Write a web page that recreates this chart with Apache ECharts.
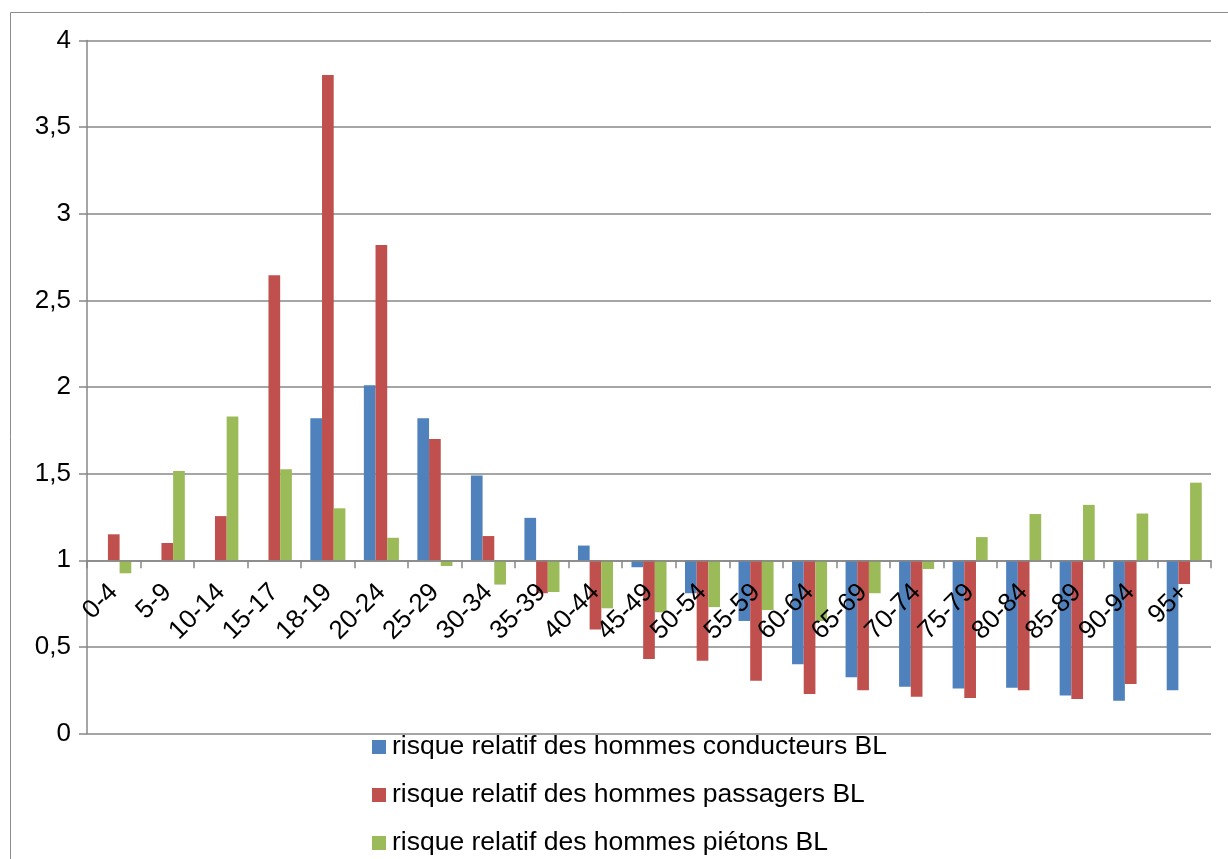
<!DOCTYPE html>
<html>
<head>
<meta charset="utf-8">
<script src="https://cdn.jsdelivr.net/npm/echarts@6/dist/echarts.min.js"></script>
<style>
html,body{margin:0;padding:0;background:#fff;}
#c{width:1228px;height:859px;}
</style>
</head>
<body>
<div id="c"></div>
<script>
var categories = ['0-4','5-9','10-14','15-17','18-19','20-24','25-29','30-34','35-39','40-44','45-49','50-54','55-59','60-64','65-69','70-74','75-79','80-84','85-89','90-94','95+'];
var conducteurs = [null,null,null,null,1.82,2.01,1.82,1.49,1.245,1.085,0.96,0.81,0.65,0.40,0.325,0.27,0.26,0.265,0.22,0.19,0.25];
var passagers = [1.15,1.10,1.255,2.645,3.80,2.82,1.70,1.14,0.81,0.60,0.43,0.42,0.305,0.228,0.25,0.213,0.205,0.25,0.20,0.286,0.863];
var pietons = [0.925,1.515,1.83,1.525,1.30,1.13,0.967,0.86,0.817,0.723,0.70,0.73,0.713,0.65,0.81,0.95,1.134,1.267,1.32,1.27,1.448];
var seriesNames = ['risque relatif des hommes conducteurs BL','risque relatif des hommes passagers BL','risque relatif des hommes piétons BL'];
var yTicks = [0,0.5,1,1.5,2,2.5,3,3.5,4];
var baseline = 1;

function shift(arr){ return arr.map(function(v){ return v == null ? null : v - baseline; }); }
function fmt(v){ var r = Math.round((v + baseline) * 10) / 10; return String(r).replace('.', ','); }

var gridTop = 40.4, gridBottom = 125.4, H = 859;
var yMin = yTicks[0] - baseline, yMax = yTicks[yTicks.length-1] - baseline;
// pixel offset of the category axis so it sits on the baseline value
var axisOffset = -(H - gridTop - gridBottom) * (0 - yMin) / (yMax - yMin);

var chart = echarts.init(document.getElementById('c'));
var font = 'Liberation Sans, Arial, sans-serif';
var gridColor = '#878787';
chart.setOption({
  animation:false,
  textStyle:{fontFamily:font},
  graphic:[{type:'rect',shape:{x:10.5,y:12.5,width:1400,height:1000},style:{fill:'none',stroke:'#8c8c8c',lineWidth:1},silent:true}],
  grid:{left:87,right:17,top:gridTop,bottom:gridBottom,containLabel:false},
  legend:{
    orient:'vertical', left:372, top:733.5, height:300, padding:0, itemWidth:14, itemHeight:14, itemGap:21,
    icon:'rect',
    textStyle:{fontSize:26.5,color:'#000',fontFamily:font,padding:[0,0,0,1]},
    data:seriesNames
  },
  xAxis:{
    type:'category', data:categories, offset:axisOffset, z:10,
    axisLine:{onZero:false,lineStyle:{color:gridColor,width:1.5}},
    axisTick:{show:true,length:8,lineStyle:{color:gridColor,width:1.5}},
    axisLabel:{rotate:45,fontSize:26,color:'#000',margin:28,interval:0,fontFamily:font},
    splitLine:{show:false}
  },
  yAxis:{
    type:'value', min:yMin, max:yMax, interval:0.5,
    axisLine:{show:true,lineStyle:{color:gridColor,width:1.5}},
    axisTick:{show:true,length:8,lineStyle:{color:gridColor,width:1.5}},
    axisLabel:{fontSize:26,color:'#000',margin:16,formatter:fmt,fontFamily:font},
    splitLine:{show:true,lineStyle:{color:gridColor,width:1.5}}
  },
  series:[
    {name:seriesNames[0],type:'bar',data:shift(conducteurs),barGap:'0%',barCategoryGap:'34.5%',itemStyle:{color:'#4F81BD'}},
    {name:seriesNames[1],type:'bar',data:shift(passagers),barGap:'0%',barCategoryGap:'34.5%',itemStyle:{color:'#C0504D'}},
    {name:seriesNames[2],type:'bar',data:shift(pietons),barGap:'0%',barCategoryGap:'34.5%',itemStyle:{color:'#9BBB59'}}
  ]
});
</script>
</body>
</html>
